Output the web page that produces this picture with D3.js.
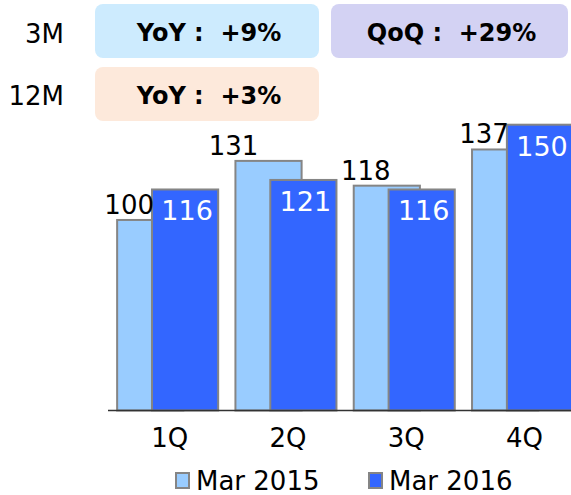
<!DOCTYPE html>
<html>
<head>
<meta charset="utf-8">
<script src="https://cdn.jsdelivr.net/npm/d3@7"></script>
<style>
  html, body { margin: 0; padding: 0; background: #fff; }
  svg { display: block; font-family: "DejaVu Sans", Verdana, sans-serif; }
</style>
</head>
<body>
<svg id="chart" width="571" height="495"></svg>
<script>
// Quarterly values for the two periods
const quarters = ["1Q", "2Q", "3Q", "4Q"];
const mar2015 = [100, 131, 118, 137];
const mar2016 = [116, 121, 116, 150];
const seriesNames = ["Mar 2015", "Mar 2016"];

// Growth summary badges
const periodLabels = ["3M", "12M"];
const badgeText = ["YoY :  +9%", "QoQ :  +29%", "YoY :  +3%"];

// Small horizontal nudges for the Mar 2015 value labels
const labelNudge = [0, -14, 0, 0];

const colors = { light: "#99ccff", dark: "#3366ff", stroke: "#858585" };

const svg = d3.select("#chart");

// ---- summary badges ----
const badges = [
  { text: badgeText[0], x: 95, y: 4, w: 224, h: 54, fill: "#cdebfe" },
  { text: badgeText[1], x: 331, y: 4, w: 237, h: 54, fill: "#d3d2f3" },
  { text: badgeText[2], x: 95, y: 67, w: 224, h: 54, fill: "#fde9db" }
];
const bg = svg.append("g");
bg.selectAll("rect").data(badges).join("rect")
  .attr("x", d => d.x).attr("y", d => d.y)
  .attr("width", d => d.w).attr("height", d => d.h)
  .attr("rx", 8).attr("fill", d => d.fill);
bg.selectAll("text").data(badges).join("text")
  .attr("x", d => d.x + d.w / 2 + 2)
  .attr("y", d => d.y + 37)
  .attr("text-anchor", "middle")
  .attr("font-size", 24).attr("font-weight", "bold")
  .style("white-space", "pre")
  .text(d => d.text);

svg.selectAll(".period").data(periodLabels).join("text")
  .attr("class", "period")
  .attr("x", 64)
  .attr("y", (d, i) => 43 + i * 62)
  .attr("text-anchor", "end")
  .attr("font-size", 26)
  .text(d => d);

// ---- bars ----
const x = d3.scaleBand().domain(quarters)
  .range([108.5, 581.7]).paddingInner(0.146).paddingOuter(0.073);
const y = d3.scaleLinear().domain([0, 150]).range([410.5, 124.7]);

const bw = x.bandwidth();
const barW = bw * 0.655;

const data = quarters.map((q, i) => ({ q, a: mar2015[i], b: mar2016[i], i }));

const g = svg.append("g");
// Mar 2015 bars (behind)
g.selectAll(".bar-a").data(data).join("rect")
  .attr("class", "bar-a")
  .attr("x", d => x(d.q)).attr("y", d => y(d.a))
  .attr("width", barW).attr("height", d => y(0) - y(d.a))
  .attr("fill", colors.light).attr("stroke", colors.stroke).attr("stroke-width", 2);
// Mar 2016 bars (in front)
g.selectAll(".bar-b").data(data).join("rect")
  .attr("class", "bar-b")
  .attr("x", d => x(d.q) + bw - barW).attr("y", d => y(d.b))
  .attr("width", barW).attr("height", d => y(0) - y(d.b))
  .attr("fill", colors.dark).attr("stroke", colors.stroke).attr("stroke-width", 2);

// value labels
g.selectAll(".lab-a").data(data).join("text")
  .attr("class", "lab-a")
  .attr("x", d => x(d.q) + bw - barW + 2 + labelNudge[d.i])
  .attr("y", d => y(d.a) - 6)
  .attr("text-anchor", "end")
  .attr("font-size", 26).attr("fill", "#000")
  .text(d => d.a);
g.selectAll(".lab-b").data(data).join("text")
  .attr("class", "lab-b")
  .attr("x", d => x(d.q) + bw - barW / 2 + 2)
  .attr("y", d => y(d.b) + 31)
  .attr("text-anchor", "middle")
  .attr("font-size", 27).attr("fill", "#fff")
  .text(d => d.b);

// ---- x axis ----
const axis = svg.append("g")
  .attr("transform", `translate(0,${y(0)})`)
  .call(d3.axisBottom(x).tickSize(0).tickPadding(18));
axis.select(".domain").attr("stroke", "#333").attr("stroke-width", 1.5)
  .attr("d", "M108,0H571");
axis.selectAll("text")
  .attr("font-size", 26).attr("fill", "#000")
  .attr("font-family", "DejaVu Sans, Verdana, sans-serif")
  .attr("dx", 2);

// ---- legend ----
const legend = svg.append("g");
const legendX = [176, 369];
const legendFill = [colors.light, colors.dark];
seriesNames.forEach((name, i) => {
  legend.append("rect")
    .attr("x", legendX[i]).attr("y", 473)
    .attr("width", 13).attr("height", 15)
    .attr("fill", legendFill[i]).attr("stroke", colors.stroke).attr("stroke-width", 2);
  legend.append("text")
    .attr("x", legendX[i] + 20).attr("y", 490)
    .attr("font-size", 26)
    .text(name);
});
</script>
</body>
</html>
